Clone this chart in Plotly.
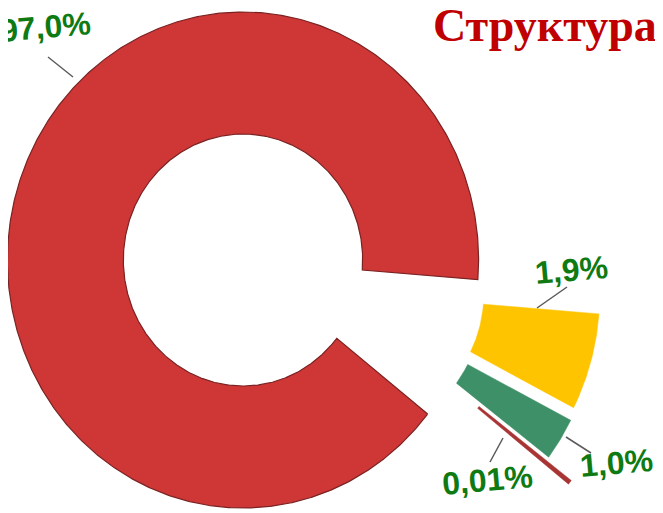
import numpy as np
import plotly.graph_objects as go

# ---- data ----
categories = ["Сегмент 1", "Сегмент 2", "Сегмент 3", "Сегмент 4"]
# angular share of each drawn slice, % of the full circle
shares = [90.6, 6.3, 2.8, 0.3]
# data labels printed on the chart
label_text = ["97,0%", "1,9%", "1,0%", "0,01%"]
title_text = "Структура"

# ---- style ----
colors = ["#CF3737", "#FFC400", "#3E9068", "#A83434"]
outline = ["#7A2222", None, None, None]
explode = [(0, 0), (132, -15.0), (133, -20.6), (164, -25.3)]  # (distance px, direction deg)
W, H = 663, 513
OFF = 8                    # page margin offset of the figure in the window
CX, CY = 243, 260          # centre of the ring in px
R = 248                    # outer radius (vertical) in px
HOLE = 0.508               # inner / outer radius
ASPECT = 0.95              # horizontal squeeze of the picture
START = -38.4              # angle where the first slice starts, going clockwise
label_pos = [(45, 27), (571, 270), (616, 463), (487, 480)]
leaders = [((48, 57), (73, 77)), ((567, 287), (537, 308)),
           ((591, 453), (566, 437)), ((490, 462), (503, 438))]

fig = go.Figure()

total = float(sum(shares))
a0 = START
for name, v, col, oc, (d, phi) in zip(categories, shares, colors, outline, explode):
    span = 360.0 * v / total
    a1 = a0 - span
    n = max(int(abs(span) * 2), 4)
    th = np.radians(np.linspace(a0, a1, n))
    ox = ASPECT * d * np.cos(np.radians(phi))
    oy = -d * np.sin(np.radians(phi))
    r_in = R * HOLE
    xs = np.concatenate([CX + ox + ASPECT * R * np.cos(th),
                         CX + ox + ASPECT * r_in * np.cos(th[::-1])])
    ys = np.concatenate([CY + oy - R * np.sin(th),
                         CY + oy - r_in * np.sin(th[::-1])])
    xs = np.append(xs, xs[0])
    ys = np.append(ys, ys[0])
    fig.add_trace(go.Scatter(
        x=xs, y=ys, mode="lines", fill="toself", fillcolor=col, name=name,
        line=dict(color=oc if oc else col, width=1.2 if oc else 0.5),
        hoverinfo="name", showlegend=False))
    a0 = a1

for txt, (x, y) in zip(label_text, label_pos):
    fig.add_annotation(x=x, y=y, xref="x", yref="y", text=txt, showarrow=False,
                       textangle=-5,
                       font=dict(family="Liberation Sans, Arial", size=32,
                                 color="#0F7A12", weight="bold"))

for (p0, p1) in leaders:
    fig.add_shape(type="line", xref="x", yref="y", x0=p0[0], y0=p0[1],
                  x1=p1[0], y1=p1[1], line=dict(color="#5A5A5A", width=1.5))

fig.add_annotation(x=431, y=25, xref="x", yref="y", text=title_text,
                   showarrow=False, xanchor="left", yanchor="middle",
                   font=dict(family="Liberation Serif, Times New Roman", size=46,
                             color="#C00000", weight="bold"))

fig.update_layout(
    width=W, height=H, margin=dict(l=0, r=0, t=0, b=0),
    paper_bgcolor="white", plot_bgcolor="white",
    xaxis=dict(range=[OFF, W + OFF], visible=False, fixedrange=True),
    yaxis=dict(range=[H + OFF, OFF], visible=False, fixedrange=True),
    showlegend=False,
)

fig.write_html("out.html")
